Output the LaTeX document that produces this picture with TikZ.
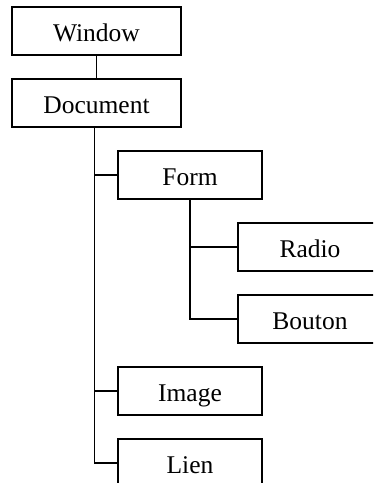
\documentclass[tikz,border=0pt]{standalone}
\usepackage{fontspec}
\setmainfont{Liberation Serif}
\begin{document}
\begin{tikzpicture}[x=1pt,y=-1pt,
  every node/.style={font=\fontsize{25.5}{30}\selectfont},
  box/.style={draw,line width=1.8pt,rectangle,inner sep=0pt,
    minimum height=48pt,text height=21pt,text depth=0pt},
  wide/.style={box,minimum width=169pt},
  narrow/.style={box,minimum width=144pt},
  link/.style={line width=1.8pt}]
  \useasboundingbox (0,0) rectangle (373,483);
  \clip (0,0) rectangle (373,483);
  % tree of boxes
  \node[wide]   (win)    at (96.5,31)  {Window};
  \node[wide]   (doc)    at (96.5,103) {Document};
  \node[narrow] (form)   at (190,175)  {Form};
  \node[narrow] (radio)  at (310,247)  {Radio};
  \node[narrow] (bouton) at (310,319)  {Bouton};
  \node[narrow] (image)  at (190,391)  {Image};
  \node[narrow] (lien)   at (190,463)  {Lien};
  % connectors
  \draw[link] (win.south) -- (doc.north -| win.south);
  \coordinate (dt) at ([xshift=-2pt]doc.south);
  \draw[link] (dt) |- (form.west);
  \draw[link] (dt) |- (image.west);
  \draw[link] (dt) |- (lien.west);
  \draw[link] (form.south) |- (radio.west);
  \draw[link] (form.south) |- (bouton.west);
\end{tikzpicture}
\end{document}
